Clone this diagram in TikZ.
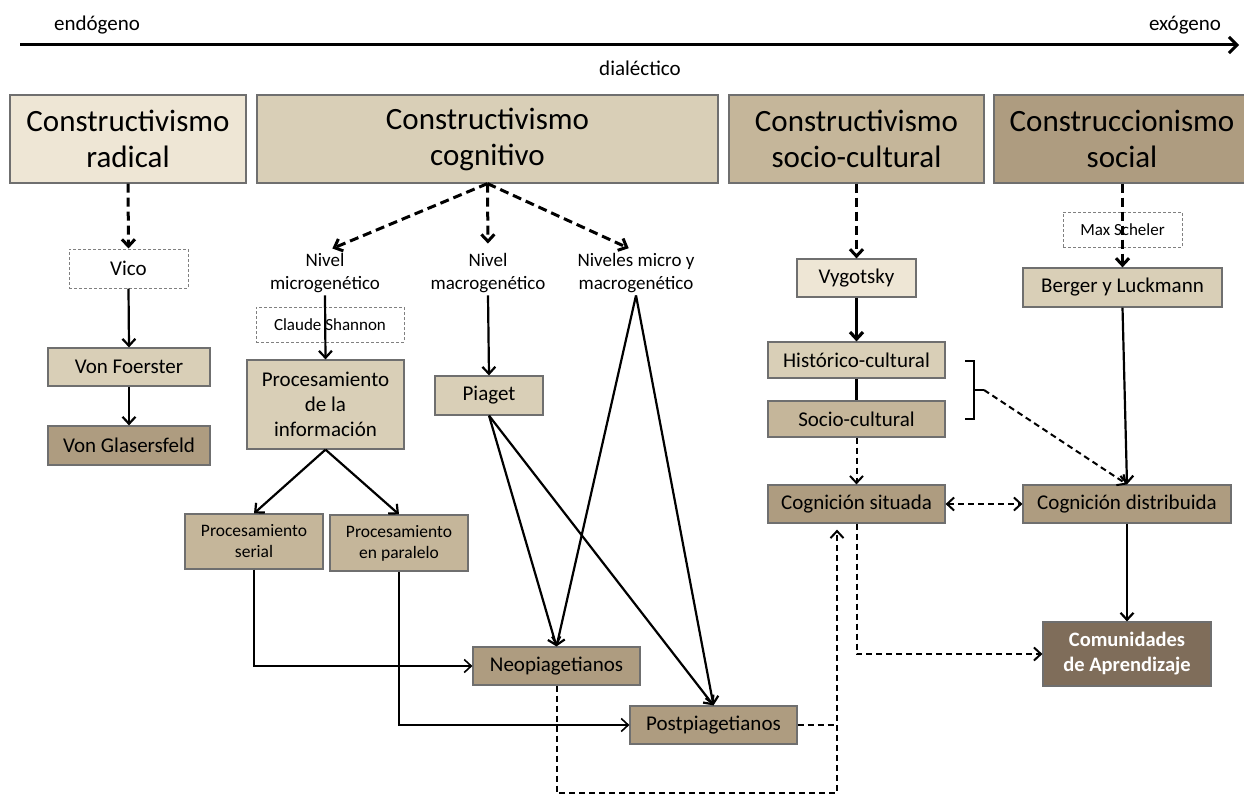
\documentclass[tikz,border=0pt]{standalone}
\usepackage{fontspec}
\setmainfont{Carlito}
\usetikzlibrary{arrows.meta}
\definecolor{cA}{HTML}{EEE6D5}
\definecolor{cB}{HTML}{D9CFB7}
\definecolor{cC}{HTML}{C5B69A}
\definecolor{cD}{HTML}{AE9C80}
\definecolor{cE}{HTML}{7F6D5A}
\definecolor{bord}{HTML}{6F6F6F}
\tikzset{
  box/.style={draw=bord, line width=1.2pt, inner sep=0pt, align=center, text=black},
  hdr/.style={box, font=\fontsize{31}{36}\selectfont},
  sbox/.style={box, font=\fontsize{21}{24}\selectfont},
  tbox/.style={box, font=\fontsize{17.5}{21}\selectfont},
  ghost/.style={draw=gray, line width=1pt, dash pattern=on 3pt off 2pt, inner sep=0pt, fill=white},
  lbl/.style={inner sep=2pt, align=center, font=\fontsize{19}{23}\selectfont},
  tip/.style={-{Straight Barb[length=7pt,width=13pt]}},
  bigdash/.style={tip, line width=3pt, dash pattern=on 9pt off 5pt},
  solid1/.style={tip, line width=2.2pt},
  thindash/.style={line width=2pt, dash pattern=on 6pt off 4pt},
}
\begin{document}
\begin{tikzpicture}[x=1pt,y=-1pt]
\useasboundingbox (0,0) rectangle (1244,797);
\fill[white] (0,0) rectangle (1244,797);

% axis
\node[font=\fontsize{21}{24}\selectfont] (endo) at (97,25) {endógeno};
\node[font=\fontsize{21}{24}\selectfont] (exo) at (1185,25) {exógeno};
\node[font=\fontsize{21}{24}\selectfont] (dial) at (640,68) {dialéctico};
\coordinate (ax1) at (20,45);
\coordinate (ax2) at (1239,45);
\draw[line width=3pt, -{Straight Barb[length=8pt,width=16pt]}] (ax1) -- (ax2);

% headers
\node[hdr, fill=cA, minimum width=236, minimum height=88] (rad) at (128,139) {Constructivismo\\radical};
\node[hdr, fill=cB, minimum width=461, minimum height=88] (cog) at (487.5,139) {Constructivismo\\cognitivo};
\node[hdr, fill=cC, minimum width=255, minimum height=88] (soh) at (856.5,139) {Constructivismo\\socio-cultural};
\node[hdr, fill=cD, minimum width=256, minimum height=88] (sch) at (1122,139) {Construccionismo\\social};

% radical column
\node[ghost, minimum width=119, minimum height=39, font=\fontsize{21}{24}\selectfont] (vico) at (128.5,268.5) {Vico};
\node[sbox, fill=cB, minimum width=162, minimum height=38] (vf) at (129,367) {Von Foerster};
\node[sbox, fill=cD, minimum width=162, minimum height=39] (vg) at (129,445.5) {Von Glasersfeld};
\draw[bigdash] (rad.south) -- (vico.north);
\draw[solid1] (vico.south) -- (vf.north);
\draw[solid1] (vf.south) -- (vg.north);

% cognitive column
\node[lbl] (micro) at (325,273.5) {Nivel\\microgenético};
\node[lbl] (macro) at (488,273.5) {Nivel\\macrogenético};
\node[lbl] (both) at (636,273.5) {Niveles micro y\\macrogenético};
\draw[bigdash, shorten >=8pt] (cog.south) -- (micro.north);
\draw[bigdash, shorten >=8pt] (cog.south) -- (macro.north);
\draw[bigdash, shorten >=8pt] (cog.south) -- (both.north);

\node[ghost, minimum width=148, minimum height=35, font=\fontsize{17}{20}\selectfont] (shan) at (330,324.5) {Claude Shannon};
\node[box, fill=cB, minimum width=157, minimum height=89, font=\fontsize{21}{25}\selectfont] (proc) at (325.5,404.5) {Procesamiento\\de la\\información};
\draw[solid1] (micro.south) -- (proc.north);
\node[tbox, fill=cC, minimum width=138, minimum height=55] (ser) at (254,541.5) {Procesamiento\\serial};
\node[tbox, fill=cC, minimum width=138, minimum height=56] (par) at (399,543) {Procesamiento\\en paralelo};
\draw[solid1] (proc.south) -- (ser.north);
\draw[solid1] (proc.south) -- (par.north);

\node[sbox, fill=cB, minimum width=108, minimum height=39] (pia) at (489,395.5) {Piaget};
\draw[solid1] (macro.south) -- (pia.north);

\node[sbox, fill=cD, minimum width=167, minimum height=38] (neo) at (556.5,666) {Neopiagetianos};
\node[sbox, fill=cD, minimum width=167, minimum height=38] (post) at (713.5,725) {Postpiagetianos};
\draw[solid1] (pia.south) -- (neo.north);
\draw[solid1] (pia.south) -- (post.north);
\draw[solid1] (both.south) -- (neo.north);
\draw[solid1] (both.south) -- (post.north);
\draw[tip, line width=1.6pt] (ser.south) |- (neo.west);
\draw[tip, line width=1.6pt] (par.south) |- (post.west);

% socio-cultural column
\node[sbox, fill=cA, minimum width=119, minimum height=38] (vyg) at (856.5,278) {Vygotsky};
\node[sbox, fill=cB, minimum width=177, minimum height=36] (hist) at (856.5,360) {Histórico-cultural};
\node[sbox, fill=cC, minimum width=177, minimum height=36] (socc) at (856.5,419) {Socio-cultural};
\node[sbox, fill=cD, minimum width=177, minimum height=38] (sit) at (856.5,504) {Cognición situada};
\draw[bigdash] (soh.south) -- (vyg.north);
\draw[tip, line width=3.2pt] (vyg.south) -- (hist.north);
\draw[line width=2.2pt] (hist.south) -- (socc.north);
\draw[thindash, tip] (socc.south) -- (sit.north);

% social column
\node[ghost, minimum width=119, minimum height=35, font=\fontsize{17}{20}\selectfont] (sche) at (1122.5,229.5) {Max Scheler};
\node[sbox, fill=cB, minimum width=199, minimum height=39] (berg) at (1122.5,287.5) {Berger y Luckmann};
\node[sbox, fill=cD, minimum width=208, minimum height=38] (dist) at (1127,504) {Cognición distribuida};
\node[box, fill=cE, minimum width=168, minimum height=64, text=white, font=\fontsize{20.5}{25}\selectfont\bfseries] (com) at (1127,654) {Comunidades\\de Aprendizaje};
\draw[bigdash] (sch.south -| berg.north) -- (berg.north);
\draw[solid1] (berg.south) -- (dist.north);
\draw[solid1] (dist.south) -- (com.north);

% brace
\draw[line width=2pt] (965,361) -- (974,361) -- (974,419) -- (965,419);
\coordinate (brt) at (984,390);
\draw[line width=2pt] (974,390) -- (brt);
\draw[thindash, tip] (brt) -- (dist.north);

% dashed interconnections
\draw[thindash, {Straight Barb[length=7pt,width=13pt]}-{Straight Barb[length=7pt,width=13pt]}] (sit.east) -- (dist.west);
\draw[thindash, tip] (sit.south) |- (com.west);
\coordinate (dj) at (837,793);
\draw[thindash, tip, shorten >=6pt] (neo.south) |- (dj) -- (dj |- sit.south);
\draw[thindash] (post.east) -- (post.east -| dj);
\end{tikzpicture}
\end{document}
